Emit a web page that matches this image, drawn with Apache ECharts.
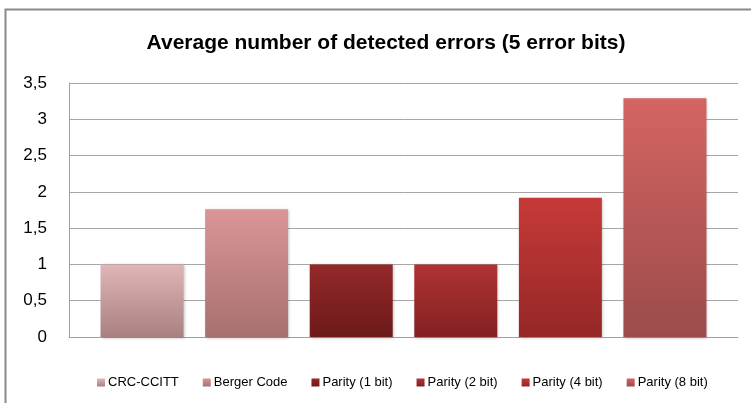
<!DOCTYPE html>
<html>
<head>
<meta charset="utf-8">
<script src="https://cdn.jsdelivr.net/npm/echarts@6/dist/echarts.min.js"></script>
<style>
html,body{margin:0;padding:0;background:#fff;}
#chart{width:751px;height:403px;}
</style>
</head>
<body>
<div id="chart"></div>
<script>
const categories = [''];
const seriesNames = ['CRC-CCITT', 'Berger Code', 'Parity (1 bit)', 'Parity (2 bit)', 'Parity (4 bit)', 'Parity (8 bit)'];
const seriesValues = [1.0, 1.76, 1.0, 1.0, 1.92, 3.29];
const yTicks = ['0', '0,5', '1', '1,5', '2', '2,5', '3', '3,5'];
const titleText = 'Average number of detected errors (5 error bits)';

const gradTop = ['#e0b5b6', '#da9597', '#952829', '#b03334', '#c63a38', '#d36562'];
const gradBottom = ['#a98181', '#a87070', '#6d1a1a', '#832020', '#952727', '#9c4b4b'];

const chart = echarts.init(document.getElementById('chart'), null, {renderer: 'canvas'});

const series = seriesNames.map((name, i) => ({
  name: name,
  type: 'bar',
  data: [seriesValues[i]],
  barWidth: 83,
  barGap: '26%',
  itemStyle: {
    color: new echarts.graphic.LinearGradient(0, 0, 0, 1, [
      {offset: 0, color: gradTop[i]},
      {offset: 1, color: gradBottom[i]}
    ]),
    shadowBlur: 3,
    shadowColor: 'rgba(0,0,0,0.25)',
    shadowOffsetX: 1,
    shadowOffsetY: 1
  },
  emphasis: {disabled: true}
}));

chart.setOption({
  animation: false,
  backgroundColor: '#fff',
  graphic: [{
    type: 'rect',
    shape: {x: 5.5, y: 9.5, width: 800, height: 450},
    style: {fill: 'none', stroke: '#8a8a8a', lineWidth: 2},
    silent: true,
    z: 100
  }],
  title: {
    text: titleText,
    left: 381,
    top: 28,
    textAlign: 'center',
    textStyle: {
      fontFamily: 'Liberation Sans, Arial, sans-serif',
      fontSize: 21,
      fontWeight: 'bold',
      color: '#000'
    }
  },
  legend: {
    data: seriesNames,
    bottom: 9,
    left: 92,
    itemWidth: 8,
    itemHeight: 8,
    itemGap: 24,
    icon: 'rect',
    textStyle: {
      fontFamily: 'Liberation Sans, Arial, sans-serif',
      fontSize: 13,
      color: '#000',
      padding: [0, 0, 0, -2]
    }
  },
  grid: {
    left: 69,
    right: 13,
    top: 83,
    bottom: 66,
    containLabel: false
  },
  xAxis: {
    type: 'category',
    data: categories,
    axisLine: {show: true, lineStyle: {color: '#a0a0a0', width: 1}},
    axisTick: {show: false},
    axisLabel: {show: false}
  },
  yAxis: {
    type: 'value',
    min: 0,
    max: 3.5,
    interval: 0.5,
    axisLine: {show: true, lineStyle: {color: '#a0a0a0', width: 1}},
    axisTick: {show: false},
    splitLine: {show: true, lineStyle: {color: '#a6a6a6', width: 1}},
    axisLabel: {
      margin: 22,
      fontFamily: 'Liberation Sans, Arial, sans-serif',
      fontSize: 17,
      color: '#000',
      formatter: function (v) {
        const idx = Math.round(v / 0.5);
        return yTicks[idx] !== undefined ? yTicks[idx] : String(v).replace('.', ',');
      }
    }
  },
  series: series
});
</script>
</body>
</html>
